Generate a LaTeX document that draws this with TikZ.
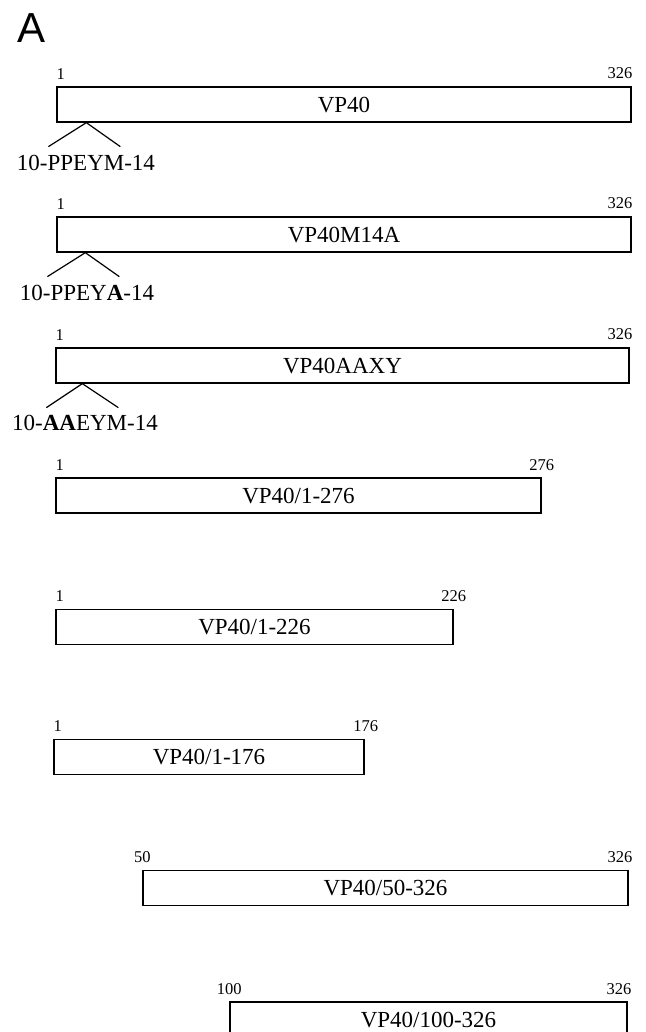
\documentclass[tikz,border=0pt]{standalone}
\usepackage{fontspec}
\setmainfont{Liberation Serif}
\newfontfamily\sansA{Liberation Sans}
\usetikzlibrary{calc}
\begin{document}
\begin{tikzpicture}[x=1pt,y=-1pt,
  cbox/.style={draw, line width=1.3pt, inner sep=0pt, minimum height=35pt,
    text height=15.5pt, text depth=0pt, font=\fontsize{23}{23}\selectfont},
  num/.style={inner sep=0pt, font=\fontsize{16.5}{16.5}\selectfont},
  seq/.style={inner sep=0pt, font=\fontsize{23}{23}\selectfont},
  leg/.style={line width=1.2pt}]
\useasboundingbox (0,0) rectangle (645,1032);
\clip (0,0) rectangle (645,1032);
\node[anchor=base west, inner sep=0pt, font=\sansA\fontsize{42}{42}\selectfont] (lblA) at (17,43) {A};

% boxes
\node[cbox, minimum width=574pt] (b1) at (344,104.5) {VP40};
\node[cbox, minimum width=574pt] (b2) at (344,234.5) {VP40M14A};
\node[cbox, minimum width=573pt] (b3) at (342.5,365.5) {VP40AAXY};
\node[cbox, minimum width=485pt] (b4) at (298.5,495.5) {VP40/1-276};
\node[cbox, minimum width=397pt] (b5) at (254.5,627) {VP40/1-226};
\node[cbox, minimum width=310pt] (b6) at (209,757) {VP40/1-176};
\node[cbox, minimum width=485pt] (b7) at (385.5,888) {VP40/50-326};
\node[cbox, minimum width=397pt] (b8) at (428.5,1019.5) {VP40/100-326};

% residue numbers
\node[num, anchor=base west] (n1l) at ($(b1.north west)+(0,-7)$) {1};
\node[num, anchor=base east] (n1r) at ($(b1.north east)+(1,-8)$) {326};
\node[num, anchor=base west] (n2l) at ($(b2.north west)+(0,-7)$) {1};
\node[num, anchor=base east] (n2r) at ($(b2.north east)+(1,-8)$) {326};
\node[num, anchor=base west] (n3l) at ($(b3.north west)+(0,-7)$) {1};
\node[num, anchor=base east] (n3r) at ($(b3.north east)+(3,-8)$) {326};
\node[num, anchor=base west] (n4l) at ($(b4.north west)+(0,-7)$) {1};
\node[num, anchor=base] (n4r) at ($(b4.north east)+(0,-7)$) {276};
\node[num, anchor=base west] (n5l) at ($(b5.north west)+(0,-7)$) {1};
\node[num, anchor=base] (n5r) at ($(b5.north east)+(0,-7)$) {226};
\node[num, anchor=base west] (n6l) at ($(b6.north west)+(0,-7)$) {1};
\node[num, anchor=base] (n6r) at ($(b6.north east)+(1,-7)$) {176};
\node[num, anchor=base] (n7l) at ($(b7.north west)+(0,-7)$) {50};
\node[num, anchor=base east] (n7r) at ($(b7.north east)+(4,-7)$) {326};
\node[num, anchor=base] (n8l) at ($(b8.north west)+(0,-7)$) {100};
\node[num, anchor=base east] (n8r) at ($(b8.north east)+(4,-7)$) {326};

% motif callouts
\coordinate (a1) at ($(b1.south west)+(30,0)$);
\coordinate (p1) at ($(a1)+(-38,24)$);
\coordinate (q1) at ($(a1)+(34,24)$);
\draw[leg] (p1) -- (a1) -- (q1);
\node[seq, anchor=base] (s1) at (86,171) {10-PPEYM-14};

\coordinate (a2) at ($(b2.south west)+(29,0)$);
\coordinate (p2) at ($(a2)+(-38,24)$);
\coordinate (q2) at ($(a2)+(34,24)$);
\draw[leg] (p2) -- (a2) -- (q2);
\node[seq, anchor=base] (s2) at (87,300) {10-PPEY\textbf{A}-14};

\coordinate (a3) at ($(b3.south west)+(27,0)$);
\coordinate (p3) at ($(a3)+(-36,24)$);
\coordinate (q3) at ($(a3)+(36,24)$);
\draw[leg] (p3) -- (a3) -- (q3);
\node[seq, anchor=base] (s3) at (85,430) {10-\textbf{AA}EYM-14};
\end{tikzpicture}
\end{document}
